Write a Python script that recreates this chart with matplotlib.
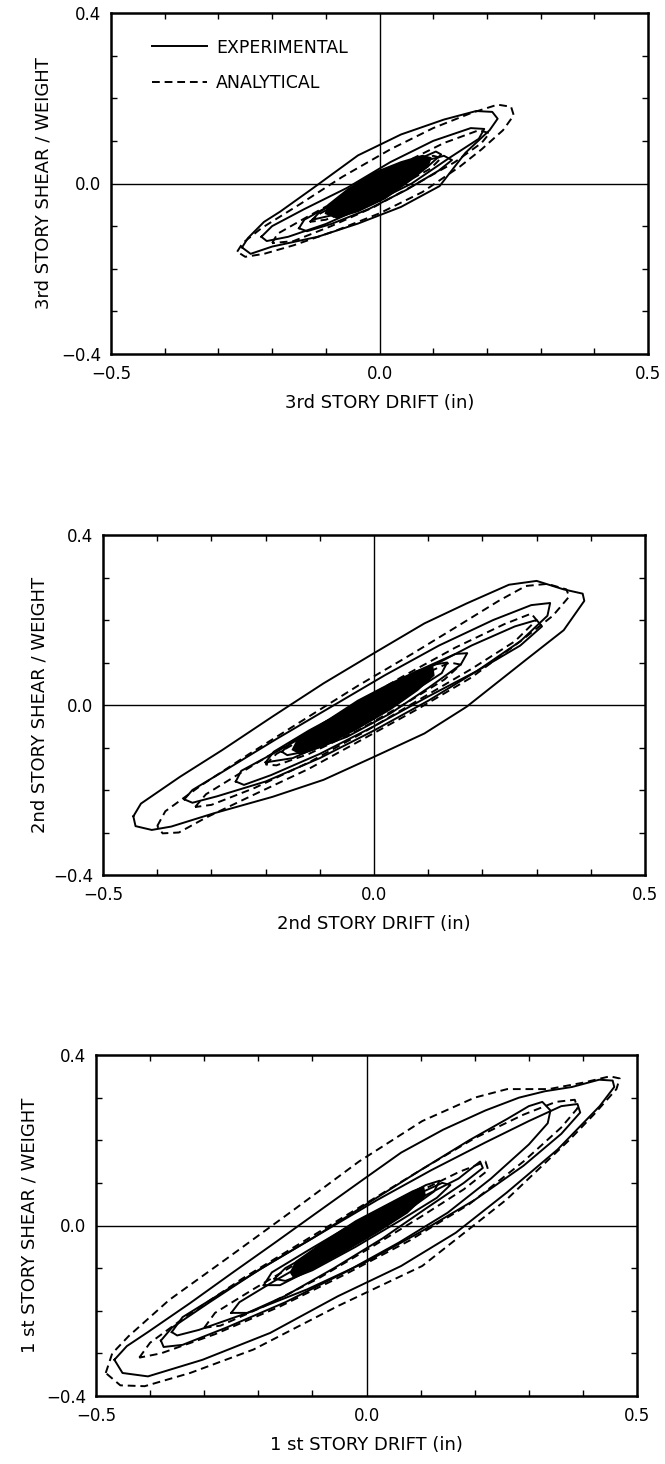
import numpy as np
import matplotlib
matplotlib.use('Agg')
import matplotlib.pyplot as plt
from matplotlib.ticker import MultipleLocator, FixedLocator

plt.rcParams['font.family'] = ['DejaVu Sans']

# ---- 3rd story: (drift in, shear/weight) ----
S3_EXP_A = [(-0.256, -0.150), (-0.245, -0.128), (-0.215, -0.090), (-0.185, -0.066), (-0.125, -0.012),
            (-0.040, 0.066), (0.040, 0.115), (0.120, 0.150), (0.180, 0.170), (0.210, 0.168),
            (0.220, 0.152), (0.205, 0.125), (0.160, 0.072), (0.112, -0.006), (0.040, -0.055),
            (-0.040, -0.094), (-0.115, -0.125), (-0.200, -0.148), (-0.240, -0.165), (-0.256, -0.150)]
S3_EXP_B = [(-0.220, -0.125), (-0.200, -0.100), (-0.140, -0.060), (-0.060, -0.010), (0.020, 0.050),
            (0.100, 0.100), (0.170, 0.130), (0.195, 0.128), (0.185, 0.105), (0.130, 0.060),
            (0.060, 0.000), (-0.020, -0.050), (-0.100, -0.095), (-0.170, -0.125), (-0.210, -0.135),
            (-0.220, -0.125)]
S3_EXP_C = [(-0.150, -0.105), (-0.140, -0.085), (-0.090, -0.050), (-0.020, 0.000), (0.060, 0.045),
            (0.120, 0.065), (0.135, 0.055), (0.110, 0.030), (0.050, -0.015), (-0.020, -0.060),
            (-0.090, -0.095), (-0.135, -0.112), (-0.150, -0.105)]
S3_EXP_D = [(-0.125, -0.085), (-0.110, -0.065), (-0.060, -0.030), (0.000, 0.015), (0.060, 0.050),
            (0.105, 0.075), (0.115, 0.068), (0.090, 0.040), (0.030, 0.000), (-0.030, -0.040),
            (-0.090, -0.075), (-0.125, -0.085)]
S3_ANA_A = [(-0.265, -0.160), (-0.255, -0.140), (-0.220, -0.105), (-0.150, -0.050), (-0.070, 0.015),
            (0.020, 0.080), (0.100, 0.130), (0.170, 0.165), (0.220, 0.185), (0.245, 0.180),
            (0.250, 0.160), (0.230, 0.125), (0.190, 0.080), (0.150, 0.040), (0.080, -0.020),
            (0.000, -0.070), (-0.080, -0.110), (-0.160, -0.145), (-0.215, -0.165), (-0.250, -0.172),
            (-0.265, -0.160)]
S3_ANA_B = [(-0.200, -0.140), (-0.190, -0.118), (-0.130, -0.075), (-0.050, -0.020), (0.040, 0.045),
            (0.120, 0.095), (0.185, 0.125), (0.205, 0.118), (0.190, 0.095), (0.140, 0.050),
            (0.070, 0.000), (-0.010, -0.055), (-0.090, -0.100), (-0.160, -0.135), (-0.200, -0.140)]
S3_ANA_C = [(-0.130, -0.090), (-0.110, -0.070), (-0.050, -0.030), (0.030, 0.025), (0.100, 0.065),
            (0.115, 0.060), (0.095, 0.035), (0.030, -0.010), (-0.040, -0.055), (-0.100, -0.085),
            (-0.130, -0.090)]
S3_CORE = [(-0.100, -0.070), (-0.095, -0.050), (-0.060, -0.015), (-0.010, 0.025), (0.040, 0.050),
           (0.080, 0.065), (0.095, 0.060), (0.090, 0.040), (0.060, 0.010), (0.010, -0.035),
           (-0.040, -0.065), (-0.080, -0.080), (-0.100, -0.070)]

# ---- 2nd story ----
S2_EXP_A = [(-0.444, -0.262), (-0.430, -0.232), (-0.358, -0.169), (-0.280, -0.106), (-0.187, -0.027),
            (-0.093, 0.051), (0.000, 0.122), (0.093, 0.192), (0.171, 0.239), (0.249, 0.283),
            (0.300, 0.292), (0.350, 0.272), (0.385, 0.262), (0.388, 0.245), (0.350, 0.176),
            (0.280, 0.106), (0.171, -0.004), (0.093, -0.067), (0.000, -0.122), (-0.093, -0.176),
            (-0.187, -0.216), (-0.296, -0.255), (-0.374, -0.286), (-0.410, -0.294), (-0.440, -0.285),
            (-0.444, -0.262)]
S2_EXP_B = [(-0.350, -0.222), (-0.335, -0.200), (-0.270, -0.150), (-0.180, -0.080), (-0.080, -0.005),
            (0.020, 0.070), (0.120, 0.140), (0.220, 0.200), (0.290, 0.235), (0.325, 0.240),
            (0.320, 0.210), (0.270, 0.150), (0.190, 0.080), (0.100, 0.010), (0.000, -0.060),
            (-0.100, -0.125), (-0.200, -0.180), (-0.290, -0.215), (-0.335, -0.230), (-0.350, -0.222)]
S2_EXP_C = [(-0.255, -0.180), (-0.245, -0.155), (-0.180, -0.110), (-0.090, -0.045), (0.000, 0.020),
            (0.090, 0.080), (0.180, 0.140), (0.260, 0.185), (0.300, 0.200), (0.310, 0.185),
            (0.270, 0.140), (0.190, 0.080), (0.100, 0.020), (0.000, -0.050), (-0.100, -0.115),
            (-0.190, -0.165), (-0.240, -0.188), (-0.255, -0.180)]
S2_EXP_D = [(-0.170, -0.110), (-0.150, -0.085), (-0.080, -0.035), (0.000, 0.025), (0.080, 0.080),
            (0.150, 0.120), (0.172, 0.122), (0.160, 0.095), (0.100, 0.040), (0.030, -0.020),
            (-0.050, -0.075), (-0.120, -0.108), (-0.160, -0.118), (-0.170, -0.110)]
S2_EXP_E = [(-0.200, -0.135), (-0.185, -0.110), (-0.120, -0.060), (-0.040, -0.005), (0.040, 0.050),
            (0.110, 0.095), (0.135, 0.100), (0.125, 0.075), (0.070, 0.030), (0.000, -0.025),
            (-0.080, -0.085), (-0.150, -0.125), (-0.200, -0.135)]
S2_ANA_A = [(-0.400, -0.285), (-0.385, -0.250), (-0.320, -0.190), (-0.230, -0.115), (-0.130, -0.035),
            (-0.030, 0.045), (0.070, 0.120), (0.160, 0.190), (0.230, 0.245), (0.280, 0.280),
            (0.320, 0.285), (0.355, 0.272), (0.360, 0.255), (0.330, 0.210), (0.270, 0.150),
            (0.180, 0.065), (0.080, -0.010), (-0.020, -0.080), (-0.120, -0.150), (-0.220, -0.210),
            (-0.310, -0.265), (-0.360, -0.300), (-0.390, -0.302), (-0.400, -0.285)]
S2_ANA_B = [(-0.330, -0.240), (-0.310, -0.210), (-0.240, -0.155), (-0.150, -0.085), (-0.050, -0.010),
            (0.050, 0.065), (0.150, 0.135), (0.240, 0.190), (0.290, 0.215), (0.300, 0.200),
            (0.260, 0.150), (0.180, 0.085), (0.080, 0.010), (-0.020, -0.065), (-0.120, -0.135),
            (-0.220, -0.195), (-0.300, -0.235), (-0.330, -0.240)]
S2_ANA_C = [(-0.200, -0.140), (-0.180, -0.115), (-0.110, -0.065), (-0.020, 0.000), (0.070, 0.060),
            (0.140, 0.100), (0.160, 0.095), (0.130, 0.060), (0.060, 0.005), (-0.030, -0.060),
            (-0.120, -0.115), (-0.180, -0.142), (-0.200, -0.140)]
S2_CORE = [(-0.150, -0.105), (-0.140, -0.080), (-0.090, -0.040), (-0.030, 0.010), (0.030, 0.050),
           (0.080, 0.080), (0.108, 0.088), (0.110, 0.070), (0.080, 0.035), (0.030, -0.010),
           (-0.030, -0.055), (-0.090, -0.095), (-0.135, -0.115), (-0.150, -0.105)]

# ---- 1st story ----
S1_EXP_A = [(-0.466, -0.315), (-0.443, -0.283), (-0.404, -0.250), (-0.326, -0.182), (-0.248, -0.111),
            (-0.170, -0.041), (-0.092, 0.030), (-0.006, 0.108), (0.064, 0.171), (0.142, 0.225),
            (0.220, 0.270), (0.282, 0.300), (0.330, 0.315), (0.380, 0.325), (0.430, 0.342),
            (0.455, 0.340), (0.458, 0.325), (0.431, 0.280), (0.353, 0.178), (0.259, 0.077),
            (0.165, -0.017), (0.064, -0.095), (-0.053, -0.166), (-0.178, -0.252), (-0.303, -0.315),
            (-0.404, -0.354), (-0.451, -0.346), (-0.466, -0.315)]
S1_EXP_B = [(-0.380, -0.270), (-0.360, -0.240), (-0.290, -0.180), (-0.200, -0.105), (-0.100, -0.030),
            (0.000, 0.050), (0.100, 0.130), (0.190, 0.200), (0.260, 0.250), (0.300, 0.280),
            (0.325, 0.290), (0.340, 0.270), (0.335, 0.240), (0.300, 0.190), (0.230, 0.110),
            (0.150, 0.030), (0.060, -0.040), (-0.040, -0.110), (-0.150, -0.180), (-0.260, -0.240),
            (-0.340, -0.280), (-0.375, -0.285), (-0.380, -0.270)]
S1_EXP_C = [(-0.360, -0.250), (-0.340, -0.215), (-0.270, -0.160), (-0.180, -0.090), (-0.080, -0.015),
            (0.020, 0.060), (0.120, 0.130), (0.220, 0.195), (0.300, 0.245), (0.360, 0.280),
            (0.390, 0.285), (0.395, 0.265), (0.360, 0.215), (0.290, 0.140), (0.200, 0.060),
            (0.100, -0.015), (0.000, -0.085), (-0.110, -0.150), (-0.220, -0.205), (-0.310, -0.245),
            (-0.350, -0.258), (-0.360, -0.250)]
S1_EXP_D = [(-0.250, -0.205), (-0.235, -0.180), (-0.170, -0.130), (-0.080, -0.065), (0.010, 0.000),
            (0.100, 0.065), (0.170, 0.110), (0.210, 0.150), (0.215, 0.135), (0.180, 0.100),
            (0.110, 0.040), (0.030, -0.030), (-0.060, -0.100), (-0.150, -0.165), (-0.220, -0.205),
            (-0.250, -0.205)]
S1_EXP_E = [(-0.170, -0.125), (-0.150, -0.100), (-0.080, -0.050), (0.000, 0.010), (0.080, 0.065),
            (0.140, 0.100), (0.155, 0.095), (0.130, 0.065), (0.060, 0.010), (-0.020, -0.050),
            (-0.100, -0.105), (-0.150, -0.130), (-0.170, -0.125)]
S1_EXP_F = [(-0.190, -0.140), (-0.175, -0.110), (-0.110, -0.060), (-0.030, 0.000), (0.050, 0.055),
            (0.110, 0.095), (0.135, 0.105), (0.125, 0.080), (0.070, 0.030), (-0.010, -0.035),
            (-0.090, -0.095), (-0.160, -0.140), (-0.190, -0.140)]
S1_ANA_A = [(-0.482, -0.346), (-0.470, -0.300), (-0.440, -0.260), (-0.365, -0.175), (-0.250, -0.070),
            (-0.131, 0.040), (-0.014, 0.150), (0.103, 0.245), (0.200, 0.300), (0.260, 0.320),
            (0.337, 0.320), (0.400, 0.335), (0.450, 0.350), (0.468, 0.345), (0.462, 0.320),
            (0.420, 0.260), (0.376, 0.202), (0.259, 0.061), (0.103, -0.095), (-0.053, -0.189),
            (-0.209, -0.291), (-0.326, -0.346), (-0.410, -0.377), (-0.455, -0.375), (-0.482, -0.346)]
S1_ANA_B = [(-0.420, -0.310), (-0.400, -0.275), (-0.330, -0.210), (-0.230, -0.125), (-0.120, -0.040),
            (-0.010, 0.045), (0.100, 0.130), (0.200, 0.205), (0.290, 0.260), (0.350, 0.290),
            (0.385, 0.295), (0.390, 0.275), (0.360, 0.230), (0.290, 0.150), (0.190, 0.050),
            (0.080, -0.035), (-0.040, -0.115), (-0.160, -0.190), (-0.280, -0.255), (-0.380, -0.300),
            (-0.420, -0.310)]
S1_ANA_C = [(-0.300, -0.240), (-0.280, -0.205), (-0.210, -0.150), (-0.110, -0.075), (-0.010, 0.000),
            (0.090, 0.075), (0.170, 0.125), (0.220, 0.150), (0.225, 0.130), (0.180, 0.085),
            (0.100, 0.020), (0.010, -0.050), (-0.090, -0.125), (-0.190, -0.190), (-0.270, -0.235),
            (-0.300, -0.240)]
S1_CORE = [(-0.140, -0.110), (-0.130, -0.085), (-0.080, -0.040), (-0.020, 0.010), (0.040, 0.050),
           (0.085, 0.080), (0.105, 0.090), (0.108, 0.070), (0.075, 0.030), (0.020, -0.015),
           (-0.040, -0.060), (-0.100, -0.100), (-0.135, -0.120), (-0.140, -0.110)]

STORIES = ['3rd', '2nd', '1 st']
EXP_LOOPS = [[S3_EXP_A, S3_EXP_B, S3_EXP_C, S3_EXP_D],
             [S2_EXP_A, S2_EXP_B, S2_EXP_C, S2_EXP_D, S2_EXP_E],
             [S1_EXP_A, S1_EXP_B, S1_EXP_C, S1_EXP_D, S1_EXP_E, S1_EXP_F]]
ANA_LOOPS = [[S3_ANA_A, S3_ANA_B, S3_ANA_C],
             [S2_ANA_A, S2_ANA_B, S2_ANA_C],
             [S1_ANA_A, S1_ANA_B, S1_ANA_C]]
CORES = [S3_CORE, S2_CORE, S1_CORE]

# axes boxes in figure pixels (left, top, right, bottom) and y-label x position
W, H = 665, 1464
BOXES = [(111, 13, 648, 354), (103, 535, 645, 875), (96, 1055, 637, 1396)]
YLAB_X = [44, 40, 30]


def fmt(v, pos):
    return ('%.1f' % v).replace('-', '\u2212')


fig = plt.figure(figsize=(W / 100, H / 100), dpi=100)
for i in range(3):
    l, t, r, b = BOXES[i]
    ax = fig.add_axes([l / W, 1 - b / H, (r - l) / W, (b - t) / H])
    ax.set_xlim(-0.5, 0.5)
    ax.set_ylim(-0.4, 0.4)
    ax.axhline(0, color='k', lw=1.0)
    ax.axvline(0, color='k', lw=1.0)

    core = np.array(CORES[i])
    ax.fill(core[:, 0], core[:, 1], color='k', lw=1.4)
    for lp in EXP_LOOPS[i]:
        a = np.array(lp)
        ax.plot(a[:, 0], a[:, 1], '-', color='k', lw=1.4, solid_joinstyle='round')
    for lp in ANA_LOOPS[i]:
        a = np.array(lp)
        ax.plot(a[:, 0], a[:, 1], '--', color='k', lw=1.4, dashes=(4, 2.5))

    ax.xaxis.set_major_locator(FixedLocator([-0.5, 0.0, 0.5]))
    ax.yaxis.set_major_locator(FixedLocator([-0.4, 0.0, 0.4]))
    ax.xaxis.set_minor_locator(MultipleLocator(0.1))
    ax.yaxis.set_minor_locator(MultipleLocator(0.1))
    ax.xaxis.set_major_formatter(plt.FuncFormatter(fmt))
    ax.yaxis.set_major_formatter(plt.FuncFormatter(fmt))
    ax.tick_params(which='both', direction='in', top=True, right=True)
    ax.tick_params(which='major', length=0, labelsize=12)
    ax.tick_params(axis='x', which='major', pad=8)
    ax.tick_params(axis='y', which='major', pad=7)
    ax.tick_params(which='minor', length=4, width=1)
    for s in ax.spines.values():
        s.set_linewidth(1.8)

    ax.set_xlabel(STORIES[i] + ' STORY DRIFT (in)', fontsize=13, labelpad=8)
    fig.text(YLAB_X[i] / W, 1 - (t + b) / 2 / H, STORIES[i] + ' STORY SHEAR / WEIGHT',
             rotation=90, ha='center', va='center', fontsize=13)

    if i == 0:
        h1, = ax.plot([], [], '-', color='k', lw=1.4)
        h2, = ax.plot([], [], '--', color='k', lw=1.4, dashes=(4, 2.5))
        ax.legend([h1, h2], ['EXPERIMENTAL', 'ANALYTICAL'], loc='upper left',
                  bbox_to_anchor=(0.076, 0.925), frameon=False, fontsize=12.5,
                  handlelength=3.2, handletextpad=0.5, labelspacing=1.0,
                  borderpad=0, borderaxespad=0)

fig.savefig('out.png', dpi=100)
